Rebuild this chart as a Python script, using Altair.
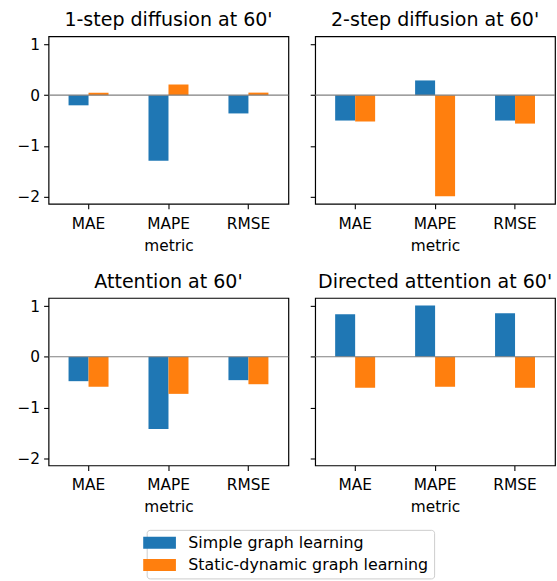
import altair as alt
import pandas as pd

# Relative change per metric for each graph-learning variant, by model
panels = ["1-step diffusion at 60'", "2-step diffusion at 60'",
          "Attention at 60'", "Directed attention at 60'"]
metrics = ["MAE", "MAPE", "RMSE"]
series = ["Simple graph learning", "Static-dynamic graph learning"]
simple_vals = [
    [-0.20, -1.29, -0.36],
    [-0.50, 0.29, -0.50],
    [-0.48, -1.42, -0.46],
    [0.84, 1.01, 0.86],
]
static_vals = [
    [0.05, 0.21, 0.05],
    [-0.52, -1.99, -0.56],
    [-0.59, -0.73, -0.54],
    [-0.61, -0.59, -0.61],
]
colors = ["#1f77b4", "#ff7f0e"]
FONT = "DejaVu Sans"

# Shared y-limits with a 5% margin around the data range
all_vals = [v for row in simple_vals + static_vals for v in row]
lo, hi = min(all_vals), max(all_vals)
margin = 0.05 * (hi - lo)
ydom = [lo - margin, hi + margin]

# Wide rectangular legend swatch (path is scaled by sqrt(symbolSize) / 2)
legend_shape = "M-2.0625,-0.75L2.0625,-0.75L2.0625,0.75L-2.0625,0.75Z"


def panel(i, show_labels):
    rows = []
    for m, a, b in zip(metrics, simple_vals[i], static_vals[i]):
        rows.append({"metric": m, "series": series[0], "value": a})
        rows.append({"metric": m, "series": series[1], "value": b})
    df = pd.DataFrame(rows)

    bars = alt.Chart(df).mark_bar().encode(
        x=alt.X("metric:N", sort=metrics,
                scale=alt.Scale(domain=metrics, paddingInner=0, paddingOuter=0),
                axis=alt.Axis(title="metric", labelAngle=0,
                              labelPadding=7.5, titlePadding=6.7)),
        xOffset=alt.XOffset("series:N", sort=series,
                            scale=alt.Scale(domain=series, paddingInner=0, paddingOuter=1)),
        y=alt.Y("value:Q",
                scale=alt.Scale(domain=ydom, nice=False, zero=False),
                axis=alt.Axis(title=None, values=[-2, -1, 0, 1], labels=show_labels,
                              format="d",
                              labelExpr="replace(datum.label, '-', '\u2212')")),
        color=alt.Color("series:N", sort=series,
                        scale=alt.Scale(domain=series, range=colors),
                        legend=alt.Legend(
                            orient="none", legendX=99, legendY=498,
                            title=None, direction="vertical",
                            symbolType=legend_shape, symbolSize=256,
                            symbolStrokeWidth=0, symbolOpacity=1,
                            labelFont=FONT, labelFontSize=16, labelColor="black",
                            labelLimit=0,
                            labelOffset=21, rowPadding=6.5, padding=5,
                            strokeColor="#cccccc", fillColor="white",
                            cornerRadius=3)),
    )
    zero = alt.Chart(pd.DataFrame({"v": [0]})).mark_rule(
        color="gray", strokeWidth=1.1).encode(y="v:Q")
    return alt.layer(bars, zero).properties(
        width=242, height=169,
        title=alt.TitleParams(panels[i], fontSize=19.2, font=FONT,
                              fontWeight="normal", color="black", offset=6),
    )


top = alt.hconcat(panel(0, True), panel(1, False), spacing=18)
bottom = alt.hconcat(panel(2, True), panel(3, False), spacing=18)

chart = alt.vconcat(top, bottom, spacing=18).properties(
    padding={"left": 16, "top": 8, "right": 0, "bottom": 0}
).configure_view(
    stroke="black", strokeWidth=1.2
).configure_axis(
    domain=False, grid=False,
    tickColor="black", tickSize=5, tickWidth=1.1,
    labelFont=FONT, labelFontSize=15.5, labelColor="black", labelPadding=4,
    titleFont=FONT, titleFontSize=15.5, titleFontWeight="normal",
    titleColor="black", titlePadding=3,
)

chart.save("out.html", embed_options={"renderer": "svg", "actions": False})
